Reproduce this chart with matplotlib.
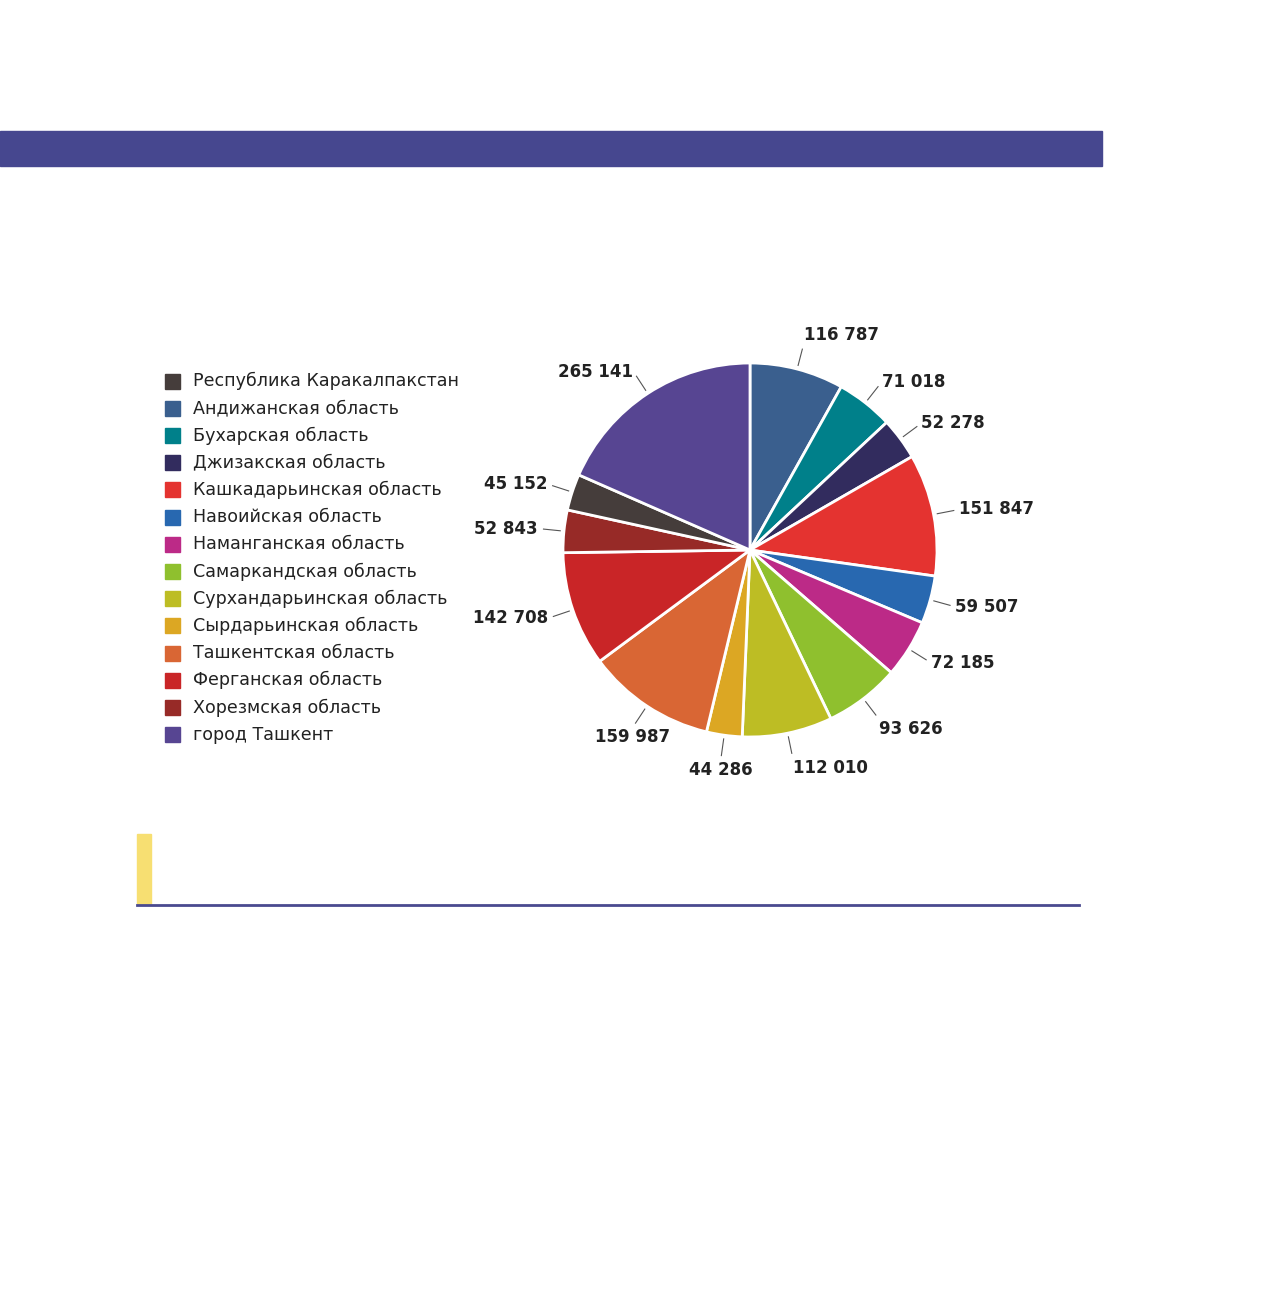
import matplotlib.pyplot as plt
from matplotlib.patches import Rectangle
import numpy as np

# данные в порядке легенды
regions = ['Республика Каракалпакстан', 'Андижанская область',
           'Бухарская область', 'Джизакская область',
           'Кашкадарьинская область', 'Навоийская область',
           'Наманганская область', 'Самаркандская область',
           'Сурхандарьинская область', 'Сырдарьинская область',
           'Ташкентская область', 'Ферганская область',
           'Хорезмская область', 'город Ташкент']
values = [45152, 116787, 71018, 52278, 151847, 59507, 72185,
          93626, 112010, 44286, 159987, 142708, 52843, 265141]
colors = ['#453d3b', '#3a5f8e', '#00808a', '#322c5e', '#e43330',
          '#2868b0', '#bc2a87', '#8fc02e', '#bdbd24', '#dca723',
          '#d96634', '#c92527', '#972a27', '#574592']
# порядок секторов по часовой стрелке от верха
pie_order = [1, 2, 3, 4, 5, 6, 7, 8, 9, 10, 11, 12, 0, 13]

W, H = 1268, 1297
fig = plt.figure(figsize=(W / 100, H / 100), dpi=100)


def fx(px):
    return px / W


def fy(py):
    return 1 - py / H


# верхняя полоса и нижняя линия
fig.patches.append(Rectangle((0, fy(165.5)), fx(1102), 34.5 / H,
                             transform=fig.transFigure,
                             color='#46478f', zorder=0))
fig.patches.append(Rectangle((fx(137), fy(904)), 14 / W, 70 / H,
                             transform=fig.transFigure,
                             color='#f7df72', zorder=0))
fig.add_artist(plt.Line2D([fx(137), fx(1079)], [fy(905), fy(905)],
                          transform=fig.transFigure,
                          color='#4a4a8f', linewidth=2))

# круговая диаграмма
cx, cy, R = 750, 550, 187
half = 1.5 * R
ax = fig.add_axes([fx(cx - half), fy(cy + half), 2 * half / W, 2 * half / H])

vals = [values[i] for i in pie_order]
cols = [colors[i] for i in pie_order]
wedges, _ = ax.pie(vals, colors=cols, startangle=90, counterclock=False,
                   radius=1.0,
                   wedgeprops=dict(edgecolor='white', linewidth=2))
ax.set_xlim(-1.5, 1.5)
ax.set_ylim(-1.5, 1.5)
ax.set_aspect('equal')
ax.axis('off')

for w, v in zip(wedges, vals):
    ang = np.deg2rad((w.theta1 + w.theta2) / 2)
    c, s = np.cos(ang), np.sin(ang)
    ax.plot([1.02 * c, 1.11 * c], [1.02 * s, 1.11 * s],
            color='#555555', linewidth=0.8)
    if s < -0.75:
        ha = 'left' if c > 0.2 else 'center'
        va = 'top'
    else:
        ha = 'left' if c > 0 else 'right'
        va = 'bottom' if s > 0.95 else 'center'
    label = f'{v:,}'.replace(',', ' ')
    ax.text(1.14 * c, 1.14 * s, label, ha=ha, va=va, fontsize=12,
            fontweight='bold', color='#222222')

# легенда
for i, name in enumerate(regions):
    yc = 381 + i * 27.2
    fig.patches.append(Rectangle((fx(165), fy(yc + 7.5)), 15 / W, 15 / H,
                                 transform=fig.transFigure,
                                 color=colors[i]))
    fig.text(fx(193), fy(yc), name, ha='left', va='center',
             fontsize=12.6, color='#222222')

fig.savefig('out.png', dpi=100, facecolor='white')
